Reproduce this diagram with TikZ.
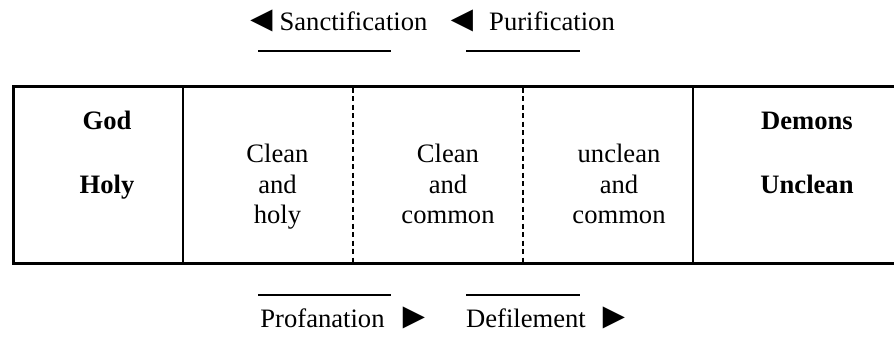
\documentclass[tikz,border=0pt]{standalone}
\usepackage{fontspec}
\setmainfont{Liberation Serif}
\begin{document}
\begin{tikzpicture}[x=1pt,y=-1pt,
  txt/.style={inner sep=0pt,outer sep=0pt,font=\fontsize{26.6}{30}\selectfont},
  btxt/.style={txt,font=\fontsize{26.6}{30}\selectfont\bfseries},
  arr/.style={inner sep=0pt,outer sep=0pt,font=\fontsize{37}{40}\selectfont},
  frame/.style={line width=3pt},
  solidsep/.style={line width=2pt},
  dashsep/.style={line width=1.6pt,dash pattern=on 5pt off 3.5pt},
  uline/.style={line width=2pt}]
\useasboundingbox (0,0) rectangle (894,341);
% frame
\coordinate (tl) at (13,86);
\coordinate (tr) at (894,86);
\coordinate (bl) at (13,263);
\coordinate (br) at (894,263);
\draw[frame] (tr) -- (tl) -- (bl) -- (br);
\draw[solidsep] (183,86) -- (183,263);
\draw[solidsep] (693,86) -- (693,263);
\draw[dashsep] (353,87.5) -- (353,262);
\draw[dashsep] (523,87.5) -- (523,262);
% column 1
\node[btxt,anchor=base] (god) at (107,129) {God};
\node[btxt,anchor=base] (holy) at (107,193) {Holy};
% column 2
\node[txt,anchor=base] (c2a) at (277.5,162) {Clean};
\node[txt,anchor=base] (c2b) at (277.5,193) {and};
\node[txt,anchor=base] (c2c) at (277.5,223) {holy};
% column 3
\node[txt,anchor=base] (c3a) at (448,162) {Clean};
\node[txt,anchor=base] (c3b) at (448,193) {and};
\node[txt,anchor=base] (c3c) at (448,223) {common};
% column 4
\node[txt,anchor=base] (c4a) at (619,162) {unclean};
\node[txt,anchor=base] (c4b) at (619,193) {and};
\node[txt,anchor=base] (c4c) at (619,223) {common};
% column 5
\node[btxt,anchor=base] (demons) at (807,129) {Demons};
\node[btxt,anchor=base] (unclean) at (807,193) {Unclean};
% top labels
\node[arr,anchor=center] (la1) at (261.5,20.5) {◄};
\node[txt,anchor=base] (sanct) at (353.5,30) {Sanctification};
\node[arr,anchor=center] (la2) at (462,20.5) {◄};
\node[txt,anchor=base] (purif) at (552,30) {Purification};
\draw[uline] (258,51) -- (391,51);
\draw[uline] (466,51) -- (580,51);
% bottom labels
\draw[uline] (258,295) -- (391,295);
\draw[uline] (466,295) -- (580,295);
\node[txt,anchor=base] (prof) at (322.5,327) {Profanation};
\node[arr,anchor=center] (ra1) at (414,318) {►};
\node[txt,anchor=base] (defil) at (526,327) {Defilement};
\node[arr,anchor=center] (ra2) at (614,318) {►};
\end{tikzpicture}
\end{document}
